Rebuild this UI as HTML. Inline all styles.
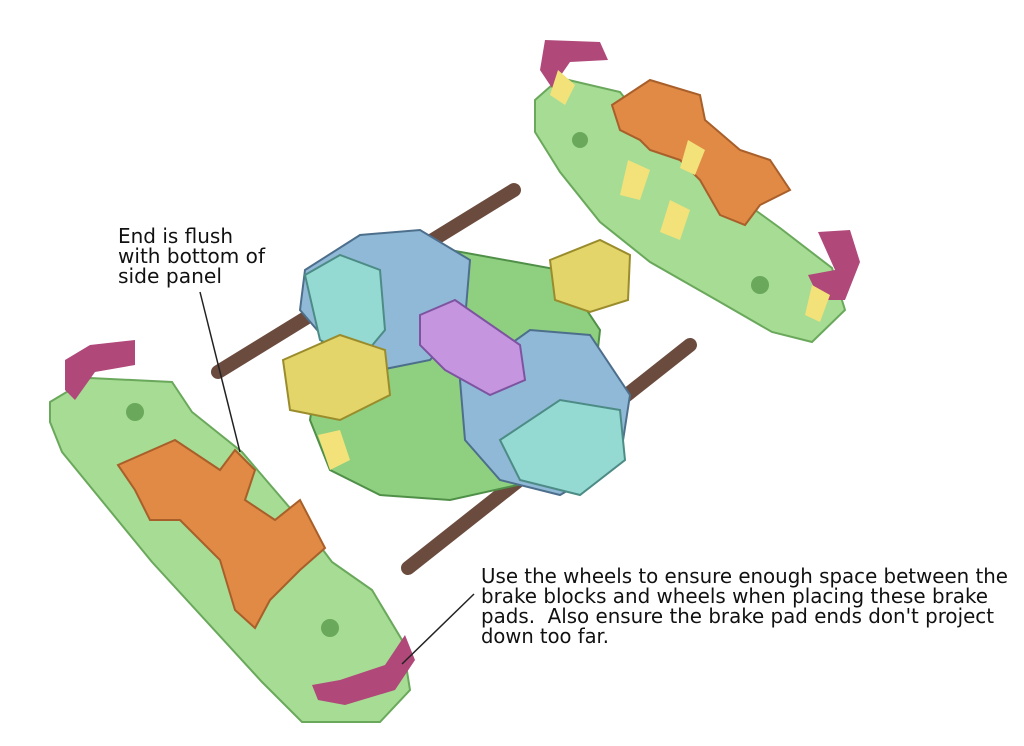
<!DOCTYPE html>
<html><head><meta charset="utf-8"><style>
html,body{margin:0;padding:0;background:#fff;width:1024px;height:746px;overflow:hidden}
svg{display:block}
text{font-family:"DejaVu Sans","Liberation Sans",sans-serif;font-size:20px;fill:#111}
</style></head><body>
<svg width="1024" height="746" viewBox="0 0 1024 746">
<!-- top right panel -->
<polygon points="535,100 560,78 620,92 650,130 700,170 780,228 832,268 845,310 812,342 772,332 720,302 650,262 600,222 560,172 535,132" fill="#a6dc93" stroke="#6aa85c" stroke-width="2"/>
<polygon points="545,40 600,42 608,60 570,62 552,88 540,70" fill="#b0487a"/>
<polygon points="818,232 850,230 860,262 845,300 820,300 808,275 835,270" fill="#b0487a"/>
<polygon points="612,105 650,80 700,95 705,120 740,150 770,160 790,190 760,205 745,225 720,215 700,180 680,160 650,150 640,140 620,130" fill="#e08a45" stroke="#a85f2a" stroke-width="2"/>
<circle cx="580" cy="140" r="8" fill="#6aa85c"/><circle cx="760" cy="285" r="9" fill="#6aa85c"/>
<polygon points="558,70 575,85 565,105 550,95" fill="#f3e27a"/>
<polygon points="628,160 650,170 640,200 620,195" fill="#f3e27a"/>
<polygon points="670,200 690,210 680,240 660,232" fill="#f3e27a"/>
<polygon points="688,140 705,150 695,175 680,168" fill="#f3e27a"/>
<polygon points="812,285 830,295 820,322 805,315" fill="#f3e27a"/>
<!-- rods -->
<line x1="218" y1="372" x2="514" y2="190" stroke="#6b4b3e" stroke-width="14" stroke-linecap="round"/>
<line x1="408" y1="568" x2="690" y2="345" stroke="#6b4b3e" stroke-width="14" stroke-linecap="round"/>
<!-- center assembly -->
<polygon points="330,290 450,250 560,270 600,330 590,420 540,480 450,500 380,495 330,470 310,420" fill="#8ed07f" stroke="#4f8f48" stroke-width="2"/>
<polygon points="305,270 360,235 420,230 470,260 465,320 430,360 380,370 330,345 300,310" fill="#8fb9d6" stroke="#4d6f8c" stroke-width="2"/>
<polygon points="305,275 340,255 380,270 385,330 360,360 320,340" fill="#95d9d3" stroke="#4d8c86" stroke-width="2"/>
<polygon points="460,380 530,330 590,335 630,395 620,460 560,495 500,480 465,440" fill="#8fb9d6" stroke="#4d6f8c" stroke-width="2"/>
<polygon points="500,440 560,400 620,410 625,460 580,495 520,480" fill="#95d9d3" stroke="#4d8c86" stroke-width="2"/>
<polygon points="420,315 455,300 520,345 525,380 490,395 445,370 420,345" fill="#c595e0" stroke="#7d54a0" stroke-width="2"/>
<polygon points="283,360 340,335 385,350 390,395 340,420 290,410" fill="#e3d56a" stroke="#9a8c2c" stroke-width="2"/>
<polygon points="550,260 600,240 630,255 628,300 590,312 555,300" fill="#e3d56a" stroke="#9a8c2c" stroke-width="2"/>
<polygon points="318,435 340,430 350,460 330,470" fill="#f3e27a"/>
<!-- bottom left panel -->
<polygon points="50,402 90,378 172,382 192,412 242,452 302,522 332,562 372,590 402,640 410,690 380,722 302,722 262,682 152,562 62,452 50,422" fill="#a6dc93" stroke="#6aa85c" stroke-width="2"/>
<circle cx="135" cy="412" r="9" fill="#6aa85c"/><circle cx="330" cy="628" r="9" fill="#6aa85c"/>
<polygon points="65,360 90,345 135,340 135,365 95,372 75,400 65,390" fill="#b0487a"/>
<polygon points="405,635 415,660 395,690 345,705 318,700 312,685 340,680 385,665" fill="#b0487a"/>
<polygon points="118,465 175,440 220,470 235,450 255,470 245,500 275,520 300,500 325,548 300,570 270,600 255,628 235,610 220,560 180,520 150,520 135,490" fill="#e08a45" stroke="#a85f2a" stroke-width="2"/>
<!-- labels -->
<text x="118" y="243" textLength="115" lengthAdjust="spacingAndGlyphs">End is flush</text>
<text x="118" y="263" textLength="147" lengthAdjust="spacingAndGlyphs">with bottom of</text>
<text x="118" y="283" textLength="104" lengthAdjust="spacingAndGlyphs">side panel</text>
<line x1="200" y1="292" x2="240" y2="452" stroke="#222" stroke-width="1.5"/>
<text x="481" y="583" textLength="527" lengthAdjust="spacingAndGlyphs">Use the wheels to ensure enough space between the</text>
<text x="481" y="603" textLength="507" lengthAdjust="spacingAndGlyphs">brake blocks and wheels when placing these brake</text>
<text x="481" y="623" textLength="513" lengthAdjust="spacingAndGlyphs" xml:space="preserve">pads.  Also ensure the brake pad ends don't project</text>
<text x="481" y="643" textLength="128" lengthAdjust="spacingAndGlyphs">down too far.</text>
<line x1="474" y1="594" x2="402" y2="664" stroke="#222" stroke-width="1.5"/>
</svg>
</body></html>
